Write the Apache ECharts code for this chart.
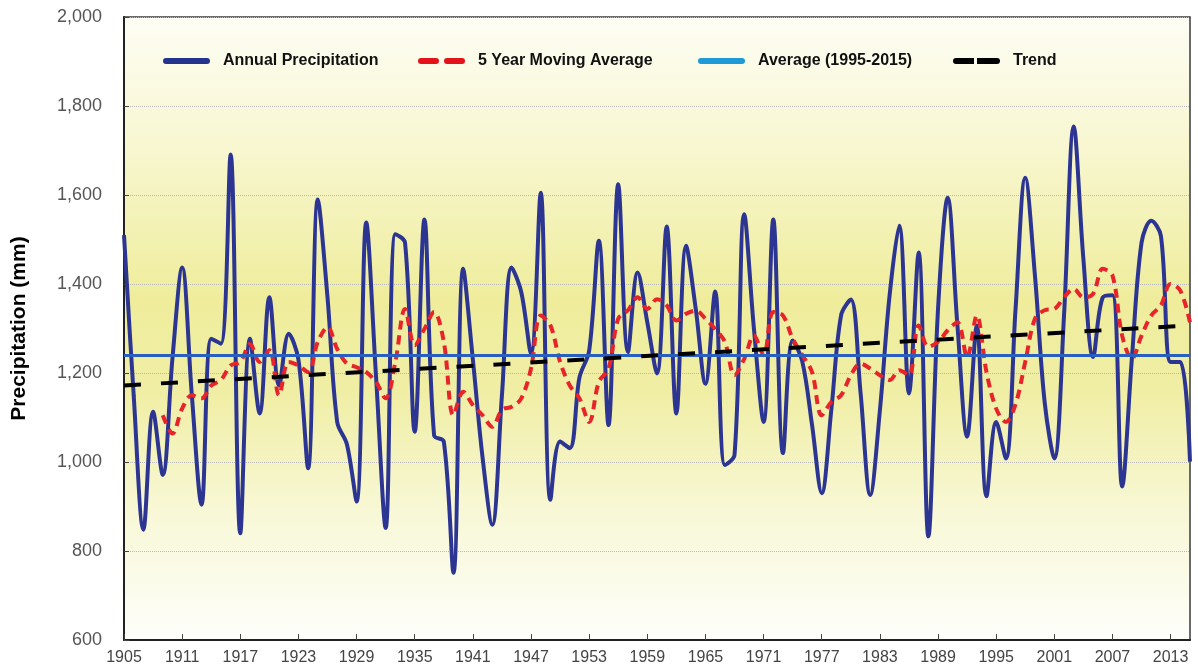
<!DOCTYPE html>
<html>
<head>
<meta charset="utf-8">
<script src="https://cdn.jsdelivr.net/npm/echarts@6/dist/echarts.min.js"></script>
<style>
  html, body { margin: 0; padding: 0; background: #fff; }
  #chart { width: 1198px; height: 672px; }
</style>
</head>
<body>
<div id="chart"></div>
<script>
// years on the x axis
var years = []
for (var y = 1905; y <= 2015; y++) years.push(String(y))

// annual precipitation (mm), 1905-2015
var annualPrecip = [
  1510, 1150, 848, 1113, 971, 1233, 1437, 1150, 904, 1277,
  1266, 1691, 840, 1277, 1109, 1370, 1172, 1288, 1230, 986,
  1590, 1370, 1090, 1040, 911, 1538, 1195, 852, 1512, 1493,
  1068, 1545, 1060, 1046, 751, 1434, 1230, 1010, 859, 1150,
  1437, 1381, 1243, 1605, 915, 1046, 1031, 1190, 1250, 1497,
  1083, 1624, 1247, 1426, 1314, 1199, 1529, 1109, 1486, 1344,
  1176, 1383, 993, 1016, 1557, 1300, 1090, 1545, 1020, 1273,
  1225, 1083, 930, 1120, 1330, 1365, 1157, 926, 1116, 1374,
  1531, 1154, 1471, 833, 1344, 1594, 1307, 1057, 1307, 923,
  1090, 1008, 1344, 1639, 1419, 1135, 1008, 1329, 1754, 1456,
  1236, 1370, 1375, 945, 1232, 1493, 1542, 1508, 1225, 1225,
  1001
]

// 5 year moving average (starts 1909)
var movingAvg = [
  null, null, null, null, 1105, 1064, 1120, 1150, 1143, 1172,
  1184, 1217, 1225, 1265, 1225, 1251, 1150, 1225, 1217, 1202,
  1270, 1303, 1254, 1221, 1213, 1202, 1180, 1143, 1225, 1344,
  1262, 1299, 1337, 1270, 1105, 1158, 1128, 1105, 1079, 1117,
  1124, 1143, 1210, 1329, 1307, 1225, 1172, 1143, 1090, 1180,
  1210, 1322, 1341, 1370, 1344, 1366, 1352, 1318, 1333, 1340,
  1322, 1299, 1270, 1195, 1232, 1284, 1240, 1337, 1329, 1277,
  1240, 1202, 1105, 1135, 1150, 1195, 1221, 1210, 1195, 1184,
  1206, 1195, 1307, 1259, 1270, 1296, 1314, 1236, 1329, 1202,
  1120, 1090, 1130, 1225, 1322, 1341, 1344, 1370, 1389, 1370,
  1378, 1434, 1419, 1284, 1232, 1284, 1329, 1352, 1400, 1385,
  1314
]

// average 1995-2015
var avgValue = 1240

// trend line end points
var trendYears = ['1905', '2015']
var trendValues = [1172, 1307]

var yTicks = [600, 800, 1000, 1200, 1400, 1600, 1800, 2000]

var narrow = "'Liberation Sans Narrow', 'Liberation Sans', Arial, sans-serif"

// legend icons: a solid bar and a two-dash bar
var solidIcon = 'path://M3,0H44A3,3 0 0 1 44,6H3A3,3 0 0 1 3,0Z'
var dashIcon = 'path://M3,0H18A3,3 0 0 1 18,6H3A3,3 0 0 1 3,0Z M29,0H44A3,3 0 0 1 44,6H29A3,3 0 0 1 29,0Z'
var blockIcon = 'path://M3,0H21V6H3A3,3 0 0 1 3,0Z M24,0H44A3,3 0 0 1 44,6H24Z'

var chart = echarts.init(document.getElementById('chart'))

// one legend per item so each sits where the original puts it
function legendItem(name, left, icon) {
  return {
    data: [name],
    left: left,
    top: 48,
    icon: icon,
    itemWidth: 47,
    itemHeight: 6,
    selectedMode: false,
    textStyle: {
      fontFamily: narrow,
      fontWeight: 'bold',
      fontSize: 16,
      color: '#111',
      padding: [0, 0, 0, 8]
    }
  }
}

chart.setOption({
  animation: false,
  backgroundColor: '#fff',
  grid: {
    left: 124,
    right: 8,
    top: 17,
    bottom: 32,
    show: true,
    borderColor: '#3a3a3a',
    borderWidth: 1.5,
    backgroundColor: {
      type: 'linear', x: 0, y: 0, x2: 0, y2: 1,
      colorStops: [
        { offset: 0, color: '#fdfdf5' },
        { offset: 0.2, color: '#f8f7d2' },
        { offset: 0.45, color: '#efed9c' },
        { offset: 0.6, color: '#f0eea4' },
        { offset: 0.8, color: '#f8f8d8' },
        { offset: 1, color: '#fefefb' }
      ]
    }
  },
  legend: [
    legendItem('Annual Precipitation', 158, solidIcon),
    legendItem('5 Year Moving Average', 413, dashIcon),
    legendItem('Average (1995-2015)', 693, solidIcon),
    legendItem('Trend', 948, blockIcon)
  ],
  xAxis: {
    type: 'category',
    data: years,
    boundaryGap: false,
    axisLine: { lineStyle: { color: '#222', width: 2 } },
    axisTick: { inside: true, length: 6, interval: 5, lineStyle: { color: '#444' } },
    axisLabel: {
      interval: 5,
      fontFamily: narrow,
      fontSize: 16,
      color: '#444',
      margin: 10
    },
    splitLine: { show: false }
  },
  yAxis: {
    type: 'value',
    min: yTicks[0],
    max: yTicks[yTicks.length - 1],
    interval: 200,
    name: 'Precipitation (mm)',
    nameLocation: 'middle',
    nameGap: 94,
    nameTextStyle: {
      fontFamily: "'Liberation Sans', Arial, sans-serif",
      fontWeight: 'bold',
      fontSize: 21,
      color: '#000'
    },
    axisLine: { show: true, lineStyle: { color: '#222', width: 2 } },
    axisTick: { show: true, inside: true, length: 5, lineStyle: { color: '#444' } },
    axisLabel: {
      fontFamily: narrow,
      fontSize: 18,
      color: '#555',
      margin: 22,
      formatter: function (v) { return echarts.format.addCommas(v) }
    },
    splitLine: {
      show: true,
      lineStyle: { color: '#b8b8b8', type: 'dotted', width: 1 }
    }
  },
  series: [
    {
      name: 'Annual Precipitation',
      type: 'line',
      data: annualPrecip,
      smooth: 0.35,
      symbol: 'none',
      lineStyle: { color: '#2c3592', width: 4 },
      itemStyle: { color: '#24338c' },
      z: 2
    },
    {
      name: '5 Year Moving Average',
      type: 'line',
      data: movingAvg,
      smooth: 0.35,
      symbol: 'none',
      lineStyle: { color: '#e8242b', width: 4, type: [9, 6] },
      itemStyle: { color: '#e3131b' },
      z: 3
    },
    {
      name: 'Average (1995-2015)',
      type: 'line',
      data: [],
      symbol: 'none',
      lineStyle: { color: '#1e9ad6', width: 4 },
      itemStyle: { color: '#1e9ad6' },
      markLine: {
        silent: true,
        symbol: 'none',
        label: { show: false },
        lineStyle: { color: '#2a5fc2', width: 3, type: 'solid' },
        data: [{ yAxis: avgValue }]
      },
      z: 4
    },
    {
      name: 'Trend',
      type: 'line',
      data: trendYears.map(function (t, i) { return [t, trendValues[i]] }),
      symbol: 'none',
      lineStyle: { color: '#000', width: 4, type: [17, 20] },
      itemStyle: { color: '#000' },
      z: 5
    }
  ]
})
</script>
</body>
</html>
